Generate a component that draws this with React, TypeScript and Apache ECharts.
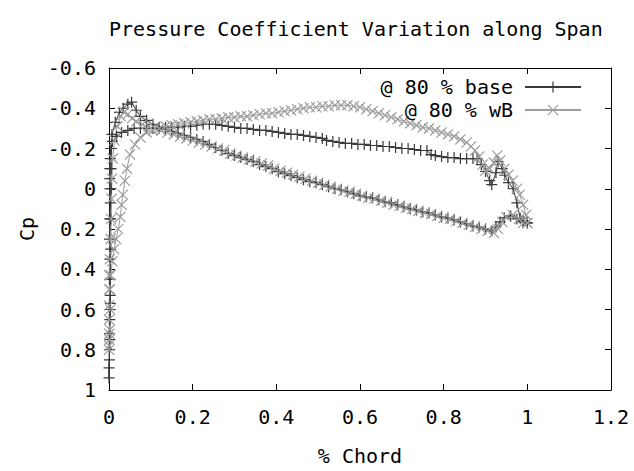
import React, { useEffect, useRef } from "react";
import * as echarts from "echarts";

const TITLE = "Pressure Coefficient Variation along Span";
const X_NAME = "% Chord";
const Y_NAME = "Cp";
const SERIES_NAMES = ["@ 80 % base", "@ 80 % wB"];
const X_RANGE = [0, 1.2];
const X_STEP = 0.2;
const Y_RANGE = [-0.6, 1];
const Y_STEP = 0.2;

// ---- "@ 80 % base" : [x/c, Cp] in drawing order ----
const baseTrailingHook = [
  [1.0, 0.17], [0.99, 0.16], [0.983, 0.146], [0.975, 0.07], [0.966, 0.0], [0.955, -0.03],
  [0.946, -0.067], [0.94, -0.1], [0.93, -0.135], [0.925, -0.08], [0.915, -0.02], [0.91, -0.04],
  [0.9, -0.086], [0.89, -0.12], [0.88, -0.15],
];
const baseUpper = [
  [0.87, -0.15], [0.855, -0.15], [0.84, -0.15], [0.825, -0.155], [0.81, -0.155], [0.795, -0.16],
  [0.78, -0.165], [0.77, -0.17], [0.76, -0.19], [0.745, -0.19], [0.73, -0.195], [0.715, -0.2],
  [0.7, -0.2], [0.685, -0.205], [0.67, -0.21], [0.655, -0.21], [0.64, -0.215], [0.625, -0.215],
  [0.61, -0.22], [0.595, -0.22], [0.58, -0.225], [0.565, -0.225], [0.55, -0.23], [0.535, -0.235],
  [0.52, -0.24], [0.51, -0.25], [0.495, -0.255], [0.48, -0.26], [0.465, -0.265], [0.45, -0.27],
  [0.435, -0.27], [0.42, -0.275], [0.405, -0.28], [0.39, -0.285], [0.375, -0.29], [0.36, -0.29],
  [0.345, -0.295], [0.33, -0.3], [0.315, -0.3], [0.3, -0.305], [0.285, -0.31], [0.27, -0.315],
  [0.255, -0.32], [0.24, -0.32], [0.225, -0.32], [0.21, -0.315], [0.195, -0.31], [0.18, -0.31],
  [0.165, -0.305], [0.15, -0.305], [0.135, -0.305], [0.12, -0.3], [0.105, -0.3], [0.09, -0.3],
  [0.075, -0.3], [0.06, -0.3], [0.045, -0.29], [0.03, -0.28], [0.018, -0.26], [0.008, -0.235],
  [0.004, -0.2],
];
const baseLeadingEdge = [
  [0.003, -0.15], [0.002, -0.1], [0.002, -0.05], [0.002, 0.0], [0.003, 0.07], [0.002, 0.15],
  [0.001, 0.25], [0.002, 0.35], [0.002, 0.45], [0.003, 0.53], [0.003, 0.57], [0.002, 0.65],
  [0.001, 0.72], [0.001, 0.8], [0.0, 0.89], [0.0, 0.94], [0.001, 0.85], [0.002, 0.75],
  [0.003, 0.6], [0.003, 0.45], [0.004, 0.3], [0.004, 0.15], [0.005, 0.0], [0.005, -0.1],
  [0.006, -0.2], [0.007, -0.27], [0.015, -0.33], [0.025, -0.38], [0.034, -0.4], [0.045, -0.42],
  [0.054, -0.43],
];
const baseLower = [
  [0.065, -0.39], [0.075, -0.36], [0.09, -0.34], [0.105, -0.32], [0.12, -0.305], [0.135, -0.295],
  [0.15, -0.285], [0.165, -0.275], [0.18, -0.265], [0.195, -0.255], [0.21, -0.245], [0.225, -0.235],
  [0.24, -0.22], [0.255, -0.205], [0.27, -0.19], [0.285, -0.175], [0.3, -0.165], [0.315, -0.155],
  [0.33, -0.145], [0.345, -0.135], [0.36, -0.12], [0.375, -0.11], [0.39, -0.1], [0.405, -0.085],
  [0.42, -0.075], [0.435, -0.065], [0.45, -0.055], [0.465, -0.045], [0.48, -0.035], [0.495, -0.03],
  [0.51, -0.02], [0.525, -0.01], [0.54, 0.0], [0.555, 0.005], [0.57, 0.015], [0.585, 0.025],
  [0.6, 0.035], [0.615, 0.04], [0.63, 0.045], [0.645, 0.055], [0.66, 0.065], [0.675, 0.07],
  [0.69, 0.08], [0.705, 0.09], [0.72, 0.1], [0.735, 0.105], [0.75, 0.115], [0.765, 0.12],
  [0.78, 0.13], [0.795, 0.14], [0.81, 0.145], [0.825, 0.155], [0.84, 0.165], [0.855, 0.175],
  [0.87, 0.185], [0.885, 0.19], [0.9, 0.2], [0.915, 0.21], [0.925, 0.19], [0.935, 0.165],
  [0.945, 0.145], [0.96, 0.135], [0.975, 0.15], [0.99, 0.165], [1.0, 0.17],
];

// ---- "@ 80 % wB" : [x/c, Cp] in drawing order ----
const wbTrailingHook = [
  [1.0, 0.17], [0.997, 0.13], [0.99, 0.08], [0.982, 0.03], [0.975, 0.0], [0.965, -0.04],
  [0.955, -0.07], [0.945, -0.1], [0.935, -0.14], [0.928, -0.165], [0.92, -0.13], [0.91, -0.1],
  [0.9, -0.09], [0.893, -0.12], [0.885, -0.16], [0.875, -0.19], [0.865, -0.21], [0.855, -0.23],
];
const wbUpper = [
  [0.84, -0.245], [0.825, -0.26], [0.81, -0.27], [0.795, -0.28], [0.78, -0.29], [0.765, -0.3],
  [0.75, -0.305], [0.735, -0.315], [0.72, -0.325], [0.705, -0.335], [0.69, -0.345], [0.675, -0.355],
  [0.66, -0.365], [0.645, -0.375], [0.63, -0.385], [0.615, -0.395], [0.6, -0.405], [0.585, -0.41],
  [0.57, -0.415], [0.555, -0.415], [0.54, -0.415], [0.525, -0.41], [0.51, -0.41], [0.495, -0.405],
  [0.48, -0.405], [0.465, -0.4], [0.45, -0.395], [0.435, -0.39], [0.42, -0.385], [0.405, -0.38],
  [0.39, -0.375], [0.375, -0.375], [0.36, -0.37], [0.345, -0.365], [0.33, -0.36], [0.315, -0.36],
  [0.3, -0.355], [0.285, -0.355], [0.27, -0.35], [0.255, -0.345], [0.24, -0.345], [0.225, -0.34],
  [0.21, -0.335], [0.195, -0.33], [0.18, -0.325], [0.165, -0.32], [0.15, -0.315], [0.135, -0.31],
  [0.12, -0.3], [0.105, -0.29], [0.09, -0.28], [0.075, -0.255], [0.062, -0.22], [0.05, -0.17],
  [0.043, -0.1], [0.038, -0.04], [0.033, 0.03], [0.03, 0.08], [0.027, 0.14], [0.022, 0.2],
  [0.017, 0.25], [0.012, 0.3], [0.008, 0.36], [0.004, 0.43], [0.002, 0.5], [0.0, 0.58],
  [0.0, 0.65], [0.001, 0.72], [0.0, 0.78], [0.0, 0.8],
];
const wbLeadingEdge = [
  [0.001, 0.75], [0.002, 0.7], [0.003, 0.6], [0.001, 0.5], [0.0, 0.43], [0.002, 0.35],
  [0.004, 0.25], [0.005, 0.15], [0.006, 0.05], [0.007, -0.05], [0.009, -0.15], [0.013, -0.24],
  [0.02, -0.31], [0.028, -0.36], [0.036, -0.38], [0.045, -0.37],
];
const wbLower = [
  [0.055, -0.35], [0.065, -0.335], [0.08, -0.32], [0.095, -0.31], [0.11, -0.3], [0.125, -0.29],
  [0.14, -0.28], [0.155, -0.27], [0.17, -0.26], [0.185, -0.25], [0.2, -0.24], [0.215, -0.23],
  [0.23, -0.22], [0.245, -0.21], [0.26, -0.2], [0.275, -0.19], [0.29, -0.175], [0.305, -0.165],
  [0.32, -0.155], [0.335, -0.145], [0.35, -0.135], [0.365, -0.125], [0.38, -0.115], [0.395, -0.1],
  [0.41, -0.09], [0.425, -0.08], [0.44, -0.07], [0.455, -0.06], [0.47, -0.05], [0.485, -0.04],
  [0.5, -0.03], [0.515, -0.02], [0.53, -0.01], [0.545, 0.0], [0.56, 0.01], [0.575, 0.015],
  [0.59, 0.025], [0.605, 0.035], [0.62, 0.045], [0.635, 0.05], [0.65, 0.06], [0.665, 0.07],
  [0.68, 0.08], [0.695, 0.085], [0.71, 0.095], [0.725, 0.1], [0.74, 0.11], [0.755, 0.12],
  [0.77, 0.125], [0.785, 0.135], [0.8, 0.145], [0.815, 0.15], [0.83, 0.16], [0.845, 0.17],
  [0.86, 0.18], [0.875, 0.19], [0.89, 0.2], [0.905, 0.21], [0.92, 0.22], [0.93, 0.2],
  [0.94, 0.165], [0.95, 0.14], [0.965, 0.13], [0.98, 0.15], [0.99, 0.17], [1.0, 0.17],
];

const FONT = "DejaVu Sans Mono";
const BASE_COLOR = "#3a3a3a";
const WB_COLOR = "#9c9c9c";
const PLUS = "path://M4.45,0H5.55V4.45H10V5.55H5.55V10H4.45V5.55H0V4.45H4.45Z";
const CROSS = "path://M0,0.75L0.75,0L5,4.25L9.25,0L10,0.75L5.75,5L10,9.25L9.25,10L5,5.75L0.75,10L0,9.25L4.25,5Z";

export default function App() {
  const ref = useRef<HTMLDivElement>(null);
  useEffect(() => {
    if (!ref.current) return;
    const chart = echarts.init(ref.current, null, { renderer: "svg" });
    const baseData = [...baseTrailingHook, ...baseUpper, ...baseLeadingEdge, ...baseLower];
    const wbData = [...wbTrailingHook, ...wbUpper, ...wbLeadingEdge, ...wbLower];
    const axisCommon = {
      type: "value" as const,
      axisLine: { show: true, onZero: false, lineStyle: { color: "#000", width: 1 } },
      axisTick: { show: true, inside: true, length: 6, lineStyle: { color: "#000" } },
      splitLine: { show: false },
    };
    chart.setOption({
      animation: false,
      backgroundColor: "#fff",
      title: {
        text: TITLE,
        left: 104,
        top: 14,
        textStyle: { fontFamily: FONT, fontSize: 20, fontWeight: "normal", color: "#000" },
      },
      legend: {
        data: SERIES_NAMES,
        orient: "vertical",
        right: 47,
        top: 72,
        align: "right",
        itemWidth: 56,
        itemHeight: 14,
        itemGap: 3,
        selectedMode: false,
        textStyle: { fontFamily: FONT, fontSize: 20, color: "#000", padding: [0, 7, 0, 0] },
      },
      grid: { left: 109, right: 23, top: 68, bottom: 78, containLabel: false },
      xAxis: [
        {
          ...axisCommon,
          position: "bottom",
          min: X_RANGE[0],
          max: X_RANGE[1],
          interval: X_STEP,
          name: X_NAME,
          nameLocation: "middle",
          nameGap: 56,
          nameTextStyle: { fontFamily: FONT, fontSize: 20, color: "#000" },
          axisLabel: { fontFamily: FONT, fontSize: 20, color: "#000", margin: 17 },
        },
        {
          ...axisCommon,
          position: "top",
          min: X_RANGE[0],
          max: X_RANGE[1],
          interval: X_STEP,
          axisLabel: { show: false },
        },
      ],
      yAxis: [
        {
          ...axisCommon,
          position: "left",
          inverse: true,
          min: Y_RANGE[0],
          max: Y_RANGE[1],
          interval: Y_STEP,
          name: Y_NAME,
          nameLocation: "middle",
          nameGap: 68,
          nameRotate: 90,
          nameTextStyle: { fontFamily: FONT, fontSize: 20, color: "#000" },
          axisLabel: { fontFamily: FONT, fontSize: 20, color: "#000", margin: 13 },
        },
        {
          ...axisCommon,
          position: "right",
          inverse: true,
          min: Y_RANGE[0],
          max: Y_RANGE[1],
          interval: Y_STEP,
          axisLabel: { show: false },
        },
      ],
      series: [
        {
          type: "line",
          name: SERIES_NAMES[0],
          data: baseData,
          symbol: PLUS,
          symbolSize: 11,
          showSymbol: true,
          showAllSymbol: true,
          clip: false,
          silent: true,
          lineStyle: { color: BASE_COLOR, width: 1 },
          itemStyle: { color: BASE_COLOR },
        },
        {
          type: "line",
          name: SERIES_NAMES[1],
          data: wbData,
          symbol: CROSS,
          symbolSize: 11,
          showSymbol: true,
          showAllSymbol: true,
          clip: false,
          silent: true,
          lineStyle: { color: WB_COLOR, width: 1 },
          itemStyle: { color: WB_COLOR },
        },
      ],
    });
    return () => chart.dispose();
  }, []);
  return (
    <div
      ref={ref}
      style={{ position: "fixed", left: 0, top: 0, width: 634, height: 471, background: "#fff" }}
    />
  );
}
